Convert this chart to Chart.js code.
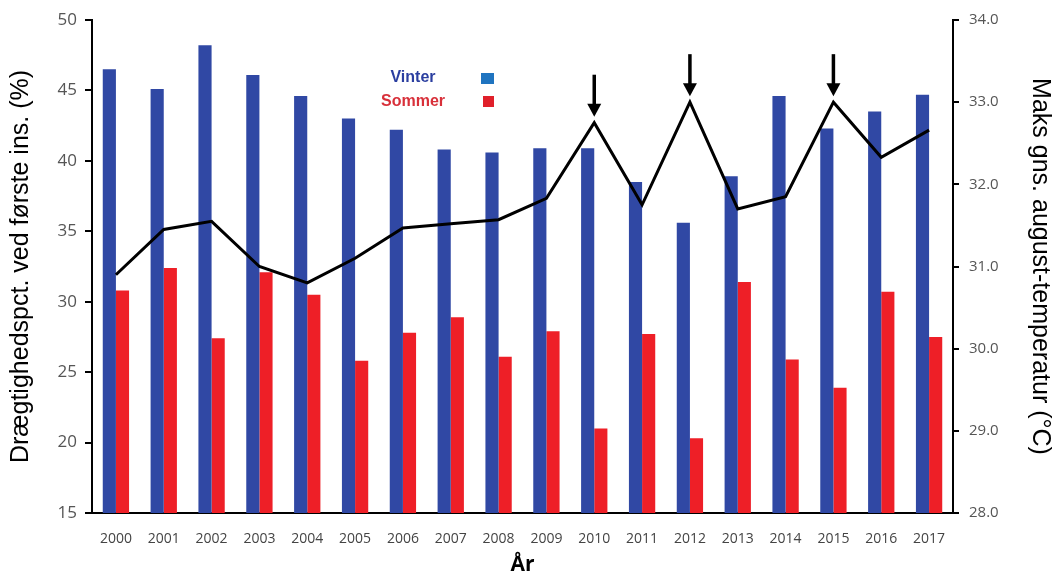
<!DOCTYPE html>
<html>
<head>
<meta charset="utf-8">
<script src="https://cdn.jsdelivr.net/npm/chart.js@4/dist/chart.umd.min.js"></script>
<style>
  body { margin: 0; background: #fff; }
  #wrap { width: 1057px; height: 582px; }
</style>
</head>
<body>
<div id="wrap"><canvas id="myChart"></canvas></div>
<script>
const years = ['2000','2001','2002','2003','2004','2005','2006','2007','2008','2009','2010','2011','2012','2013','2014','2015','2016','2017'];
const vinter = [46.5, 45.1, 48.2, 46.1, 44.6, 43.0, 42.2, 40.8, 40.6, 40.9, 40.9, 38.5, 35.6, 38.9, 44.6, 42.3, 43.5, 44.7];
const sommer = [30.8, 32.4, 27.4, 32.1, 30.5, 25.8, 27.8, 28.9, 26.1, 27.9, 21.0, 27.7, 20.3, 31.4, 25.9, 23.9, 30.7, 27.5];
const temp = [30.9, 31.45, 31.55, 31.0, 30.8, 31.1, 31.47, 31.52, 31.57, 31.83, 32.75, 31.75, 33.0, 31.7, 31.85, 33.0, 32.33, 32.66];
const arrowYears = ['2010', '2012', '2015'];

const ctx = document.getElementById('myChart');

// arrows above the hot years + the little legend box
const extras = {
  id: 'extras',
  afterDatasetsDraw(chart) {
    const c = chart.ctx;
    const x = chart.scales.x;
    const y1 = chart.scales.y1;
    c.save();
    c.strokeStyle = '#000';
    c.fillStyle = '#000';
    arrowYears.forEach(yr => {
      const i = years.indexOf(yr);
      const px = x.getPixelForValue(i);
      const tip = y1.getPixelForValue(temp[i]) - 6;
      const tail = tip - 42;
      c.lineWidth = 3.5;
      c.beginPath();
      c.moveTo(px, tail);
      c.lineTo(px, tip - 10);
      c.stroke();
      c.beginPath();
      c.moveTo(px - 7, tip - 13);
      c.lineTo(px + 7, tip - 13);
      c.lineTo(px, tip);
      c.closePath();
      c.fill();
    });

    c.font = 'bold 16px "Liberation Sans", Arial, sans-serif';
    c.textAlign = 'center';
    c.textBaseline = 'middle';
    c.fillStyle = '#2b3fa0';
    c.fillText('Vinter', 413, 78);
    c.fillStyle = '#d8303a';
    c.fillText('Sommer', 413, 102);
    c.fillStyle = '#1f74c0';
    c.fillRect(481, 73, 13, 11);
    c.fillStyle = '#e0202a';
    c.fillRect(483, 96, 11, 11);
    c.restore();
  }
};

new Chart(ctx, {
  data: {
    labels: years,
    datasets: [
      {
        type: 'line',
        label: 'Temperatur',
        data: temp,
        yAxisID: 'y1',
        borderColor: '#000',
        borderWidth: 3,
        pointRadius: 0,
        tension: 0,
        order: 0
      },
      {
        type: 'bar',
        label: 'Vinter',
        data: vinter,
        yAxisID: 'y',
        backgroundColor: '#3048a4',
        categoryPercentage: 0.55,
        barPercentage: 1.0,
        order: 1
      },
      {
        type: 'bar',
        label: 'Sommer',
        data: sommer,
        yAxisID: 'y',
        backgroundColor: '#ee1f27',
        categoryPercentage: 0.55,
        barPercentage: 1.0,
        order: 1
      }
    ]
  },
  plugins: [extras],
  options: {
    responsive: true,
    maintainAspectRatio: false,
    animation: false,
    layout: { padding: { top: 20, left: 0, right: 0, bottom: 0 } },
    plugins: {
      legend: { display: false },
      tooltip: { enabled: false }
    },
    scales: {
      x: {
        grid: { display: false },
        border: { display: true, color: '#000', width: 2 },
        ticks: {
          color: '#444',
          font: { size: 14, family: '"Open Sans", sans-serif' },
          padding: 10,
          maxRotation: 0
        },
        title: {
          display: true,
          text: 'År',
          color: '#000',
          font: { size: 21, weight: 'bold', family: '"Open Sans", sans-serif' },
          padding: { top: 2 }
        },
        afterFit(s) { s.height = 69; }
      },
      y: {
        position: 'left',
        min: 15,
        max: 50,
        ticks: {
          stepSize: 5,
          color: '#555',
          font: { size: 17, family: '"Open Sans", sans-serif' },
          padding: 8
        },
        grid: { drawOnChartArea: false, drawTicks: true, tickLength: 7, color: '#000', lineWidth: 2 },
        border: { color: '#000', width: 2 },
        title: {
          display: true,
          text: 'Drægtighedspct. ved første ins. (%)',
          color: '#000',
          font: { size: 25, family: '"Liberation Sans", Arial, sans-serif' },
          padding: { top: 6, bottom: 0 }
        },
        afterFit(s) { s.width = 92; }
      },
      y1: {
        position: 'right',
        min: 28,
        max: 34,
        ticks: {
          stepSize: 1,
          color: '#555',
          font: { size: 15, family: '"Open Sans", sans-serif' },
          padding: 10,
          callback: v => v.toFixed(1)
        },
        grid: { drawOnChartArea: false, drawTicks: true, tickLength: 6, color: '#000', lineWidth: 2 },
        border: { color: '#000', width: 2 },
        title: {
          display: true,
          text: 'Maks gns. august-temperatur (°C)',
          color: '#000',
          font: { size: 25, family: '"Liberation Sans", Arial, sans-serif' },
          padding: { top: 2, bottom: 0 }
        },
        afterFit(s) { s.width = 104; }
      }
    }
  }
});
</script>
</body>
</html>
